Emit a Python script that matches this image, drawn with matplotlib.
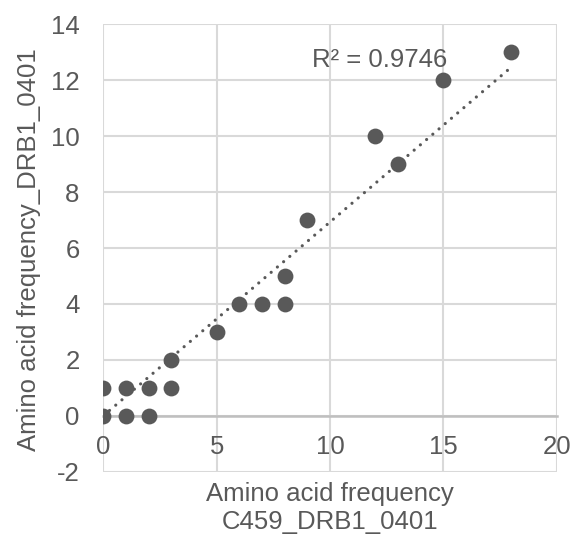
import matplotlib
matplotlib.use("Agg")
import matplotlib.pyplot as plt
import numpy as np

plt.rcParams['font.family'] = ['Liberation Sans', 'DejaVu Sans']
plt.rcParams['axes.unicode_minus'] = False

x_vals = [0, 1, 2, 0, 1, 2, 3, 3, 5, 6, 7, 8, 8, 9, 12, 13, 15, 18]
y_vals = [0, 0, 0, 1, 1, 1, 1, 2, 3, 4, 4, 4, 5, 7, 10, 9, 12, 13]
# linear trendline as drawn in the reference (end points)
trend_x = [0, 18]
trend_y = [0.0, 12.47]
x_ticks = [0, 5, 10, 15, 20]
y_ticks = [-2, 0, 2, 4, 6, 8, 10, 12, 14]
r2_label = "R² = 0.9746"
x_label = "Amino acid frequency\nC459_DRB1_0401"
y_label = "Amino acid frequency_DRB1_0401"

txt = '#595959'
grid = '#d9d9d9'
fs = 18.5

fig = plt.figure(figsize=(5.84, 5.39), dpi=100)
ax = fig.add_axes([103.3/584, 1-471.7/539, (556.7-103.3)/584, (471.7-24.3)/539])
ax.set_xlim(0, 20)
ax.set_ylim(-2, 14)
ax.set_xticks(x_ticks)
ax.set_yticks(y_ticks)
ax.grid(True, color=grid, linewidth=1.5)
ax.set_axisbelow(True)
for s in ['top', 'right', 'left']:
    ax.spines[s].set_visible(False)
ax.spines['bottom'].set_position(('data', 0))
ax.spines['bottom'].set_color('#bfbfbf')
ax.spines['bottom'].set_linewidth(1.8)
ax.spines['bottom'].set_zorder(1)
ax.tick_params(length=0, labelsize=fs, colors=txt)
ax.tick_params(axis='x', pad=14)
ax.tick_params(axis='y', pad=17)

ax.scatter(x_vals, y_vals, s=130, color='#595959', zorder=3, linewidths=0)

ax.plot(trend_x, trend_y, linestyle=(0, (0.01, 2.55)), dash_capstyle='round',
        color='#595959', linewidth=2.3, zorder=2)

ax.text(12.17, 12.49, r2_label, ha='center', va='baseline', fontsize=fs, color=txt)

fig.text(330/584, 1-508/539, x_label, ha='center', va='center', fontsize=fs,
         color=txt, linespacing=1.2)
fig.text(29/584, 1-250/539, y_label, ha='center', va='center', fontsize=fs,
         color=txt, rotation=90)

fig.savefig('out.png', dpi=100)
